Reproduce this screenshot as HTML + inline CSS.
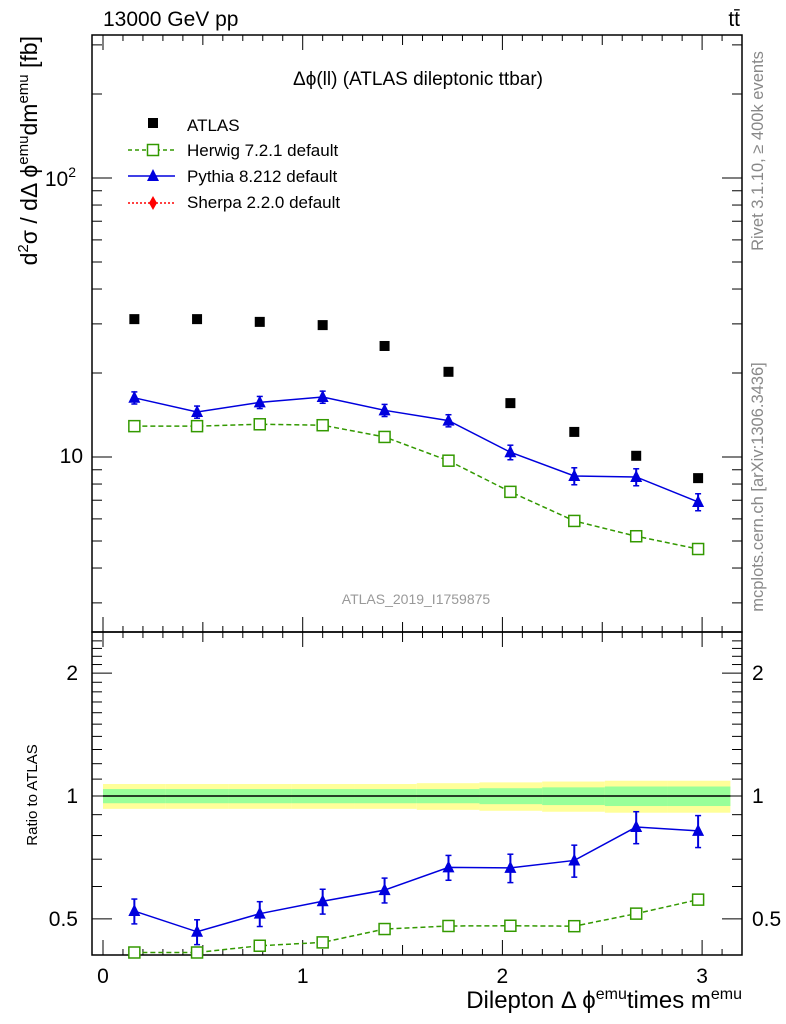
<!DOCTYPE html>
<html><head><meta charset="utf-8"><style>
html,body{margin:0;background:#fff;width:786px;height:1024px;overflow:hidden;}
svg text{font-family:"Liberation Sans",sans-serif;}
#c{position:absolute;left:0;top:0;}
</style></head><body>
<svg id="c" width="786" height="1024" xmlns="http://www.w3.org/2000/svg"></svg>
<script>
const xCenters=[0.157,0.471,0.785,1.1,1.41,1.73,2.04,2.36,2.67,2.98];
const atlasVals=[31.2,31.2,30.5,29.7,25.0,20.2,15.6,12.3,10.1,8.4];
const pythiaVals=[16.3,14.5,15.7,16.4,14.7,13.5,10.4,8.55,8.48,6.9];
const herwigVals=[12.9,12.9,13.1,13.0,11.8,9.7,7.5,5.9,5.2,4.68];
const pythiaRelErr=[0.05,0.05,0.05,0.05,0.05,0.05,0.06,0.07,0.07,0.07];
const bandInner=[0.04,0.04,0.04,0.04,0.04,0.04,0.045,0.05,0.055,0.055];
const bandOuter=[0.07,0.07,0.07,0.07,0.07,0.075,0.08,0.085,0.09,0.09];
const xTicks=[0,1,2,3];
const ratioTicks=[0.5,1,2];

const L=92,R=742,T=35,B=632,RT=632,RB=955;
const sx=v=>103+v*199.7;
const sy=v=>457-(Math.log10(v)-1)*279;
const ry=v=>796-Math.log10(v)*408;
const svg=document.getElementById('c');
const NS='http://www.w3.org/2000/svg';
function mk(tag,attrs,parent){const e=document.createElementNS(NS,tag);for(const k in attrs)e.setAttribute(k,attrs[k]);(parent||svg).appendChild(e);return e;}
function txt(x,y,s,attrs,parent){const e=mk('text',Object.assign({x:x,y:y},attrs||{}),parent);e.innerHTML=s;return e;}

const bandG=mk('g',{});


const edges=[0,0.314,0.628,0.942,1.257,1.571,1.885,2.199,2.513,2.827,3.1416];
for(let i=0;i<xCenters.length;i++){
  const x0=sx(edges[i]),x1=sx(edges[i+1]);
  mk('rect',{x:x0,y:ry(1+bandOuter[i]),width:x1-x0,height:ry(1-bandOuter[i])-ry(1+bandOuter[i]),fill:'#ffff99'},bandG);
}
for(let i=0;i<xCenters.length;i++){
  const x0=sx(edges[i]),x1=sx(edges[i+1]);
  mk('rect',{x:x0,y:ry(1+bandInner[i]),width:x1-x0,height:ry(1-bandInner[i])-ry(1+bandInner[i]),fill:'#99ff99'},bandG);
}
const ref=mk('line',{x1:sx(0),x2:sx(3.1416),y1:ry(1),y2:ry(1),stroke:'#000','stroke-width':1.5});



const f1=mk('rect',{x:L,y:T,width:R-L,height:B-T,fill:'none',stroke:'#000','stroke-width':1.5});


const f2=mk('rect',{x:L,y:RT,width:R-L,height:RB-RT,fill:'none',stroke:'#000','stroke-width':1.5});



for(let v=0;v<=3.15;v+=0.1){
  const vv=Math.round(v*10)/10;
  const major=Math.abs(vv-Math.round(vv))<1e-6;
  const mid=Math.abs(vv*2-Math.round(vv*2))<1e-6;
  const len=major?15:(mid?10:6);
  const x=sx(vv);
  [[B,-1],[T,1],[RB,-1],[RT,1]].forEach(([y,d])=>mk('line',{x1:x,x2:x,y1:y,y2:y+d*len,stroke:'#000','stroke-width':1}));
}
xTicks.forEach(v=>{const t=txt(sx(v),983,v,{'font-size':21,'text-anchor':'middle'});});

for(let d=1;d<=3;d++)for(let m=1;m<10;m++){
  const val=m*Math.pow(10,d-1);
  if(val<2.36||val>326)continue;
  const y=sy(val);const len=m===1?20:10;
  mk('line',{x1:L,x2:L+len,y1:y,y2:y,stroke:'#000'});
  mk('line',{x1:R,x2:R-len,y1:y,y2:y,stroke:'#000'});
}
let t1=txt(83,463,'10',{'font-size':21,'text-anchor':'end'});
let t2=txt(76,186,'10<tspan font-size="14" dy="-9">2</tspan>',{'font-size':21,'text-anchor':'end'});

for(let v=0.5;v<=2.5;v+=0.1){
  const vv=Math.round(v*10)/10;
  const y=ry(vv);if(y<RT||y>RB)continue;
  const major=ratioTicks.includes(vv);
  const len=major?20:10;
  mk('line',{x1:L,x2:L+len,y1:y,y2:y,stroke:'#000'});
  mk('line',{x1:R,x2:R-len,y1:y,y2:y,stroke:'#000'});
}
ratioTicks.forEach(v=>{
  let a=txt(78,ry(v)+7,v,{'font-size':21,'text-anchor':'end'});
  let b=txt(752,ry(v)+7,v,{'font-size':21});
});

function line(vals,fy,color,dash,name){
  const p=mk('polyline',{points:xCenters.map((x,i)=>sx(x)+','+fy(vals[i])).join(' '),fill:'none',stroke:color,'stroke-width':1.5,'stroke-dasharray':dash||'none'});
  
  
}
function tri(x,y,c,g){mk('polygon',{points:`${x},${y-7} ${x-6},${y+5} ${x+6},${y+5}`,fill:c},g);}
function sq(x,y,c,g){mk('rect',{x:x-5.5,y:y-5.5,width:11,height:11,fill:'#fff',stroke:c,'stroke-width':1.5},g);}
function errbar(x,y1,y2,c,g){mk('line',{x1:x,x2:x,y1:y1,y2:y2,stroke:c,'stroke-width':2},g);mk('line',{x1:x-3,x2:x+3,y1:y1,y2:y1,stroke:c,'stroke-width':1.5},g);mk('line',{x1:x-3,x2:x+3,y1:y2,y2:y2,stroke:c,'stroke-width':1.5},g);}

line(herwigVals,sy,'#339900','5,3','herwig-line');
line(pythiaVals,sy,'#0000dd',null,'pythia-line');
const gA=mk('g',{});
xCenters.forEach((x,i)=>mk('rect',{x:sx(x)-5,y:sy(atlasVals[i])-5,width:10,height:10,fill:'#000'},gA));
const gH=mk('g',{});
xCenters.forEach((x,i)=>sq(sx(x),sy(herwigVals[i]),'#339900',gH));
const gP=mk('g',{});
xCenters.forEach((x,i)=>{const v=pythiaVals[i],e=pythiaRelErr[i];errbar(sx(x),sy(v*(1+e)),sy(v*(1-e)),'#0000dd',gP);tri(sx(x),sy(v),'#0000dd',gP);});

const herwigRatio=herwigVals.map((v,i)=>v/atlasVals[i]);
const pythiaRatio=pythiaVals.map((v,i)=>v/atlasVals[i]);
line(herwigRatio,ry,'#339900','5,3','herwig-ratio-line');
line(pythiaRatio,ry,'#0000dd',null,'pythia-ratio-line');
const gHR=mk('g',{});
xCenters.forEach((x,i)=>sq(sx(x),ry(herwigRatio[i]),'#339900',gHR));
const gPR=mk('g',{});
xCenters.forEach((x,i)=>{const v=pythiaRatio[i],e=pythiaRelErr[i]+0.02;errbar(sx(x),ry(v*(1+e)),ry(v*(1-e)),'#0000dd',gPR);tri(sx(x),ry(v),'#0000dd',gPR);});

const lg=mk('g',{});
mk('rect',{x:148,y:118,width:10,height:10,fill:'#000'},lg);
txt(187,131,'ATLAS',{'font-size':17},lg);
mk('line',{x1:128,x2:175,y1:150,y2:150,stroke:'#339900','stroke-width':1.5,'stroke-dasharray':'4,3'},lg);sq(153,150,'#339900',lg);
txt(187,156,'Herwig 7.2.1 default',{'font-size':17},lg);
mk('line',{x1:128,x2:175,y1:176,y2:176,stroke:'#0000dd','stroke-width':1.5},lg);tri(153,176,'#0000dd',lg);
txt(187,182,'Pythia 8.212 default',{'font-size':17},lg);
mk('line',{x1:128,x2:175,y1:203,y2:203,stroke:'#ff0000','stroke-width':1.5,'stroke-dasharray':'2,2'},lg);
mk('polygon',{points:'153,196 157,203 153,210 149,203',fill:'#ff0000'},lg);
txt(187,208,'Sherpa 2.2.0 default',{'font-size':17},lg);

function label(s,attrs,name){const e=txt(attrs.x,attrs.y,s,attrs);return e;}
label('13000 GeV pp',{x:103,y:26,'font-size':21},'energy-label');
label('tt̄',{x:740,y:26,'font-size':21,'text-anchor':'end'},'process-label');
label('Δϕ(ll) (ATLAS dileptonic ttbar)',{x:418,y:85,'font-size':19,'text-anchor':'middle'},'plot-title');
label('ATLAS_2019_I1759875',{x:416,y:604,'font-size':14,fill:'#999','text-anchor':'middle'},'analysis-id');
label('d<tspan font-size="15" dy="-9">2</tspan><tspan dy="9">σ / dΔ ϕ</tspan><tspan font-size="15" dy="-9">emu</tspan><tspan dy="9">dm</tspan><tspan font-size="15" dy="-9">emu</tspan><tspan dy="9"> [fb]</tspan>',{x:0,y:0,transform:'translate(37,36) rotate(-90)','font-size':23,'text-anchor':'end'},'y-axis-title');
label('Ratio to ATLAS',{x:0,y:0,transform:'translate(37,795) rotate(-90)','font-size':15,'text-anchor':'middle'},'ratio-axis-title');
label('Dilepton Δ ϕ<tspan font-size="16" dy="-9">emu</tspan><tspan dy="9">times m</tspan><tspan font-size="16" dy="-9">emu</tspan>',{x:742,y:1008,'font-size':24,'text-anchor':'end'},'x-axis-title');
label('Rivet 3.1.10, ≥ 400k events',{x:0,y:0,transform:'translate(763,151) rotate(-90)','font-size':16.5,fill:'#888','text-anchor':'middle'},'rivet-version-label');
label('mcplots.cern.ch [arXiv:1306.3436]',{x:0,y:0,transform:'translate(763,487) rotate(-90)','font-size':16.5,fill:'#888','text-anchor':'middle'},'mcplots-label');
</script>
</body></html>
